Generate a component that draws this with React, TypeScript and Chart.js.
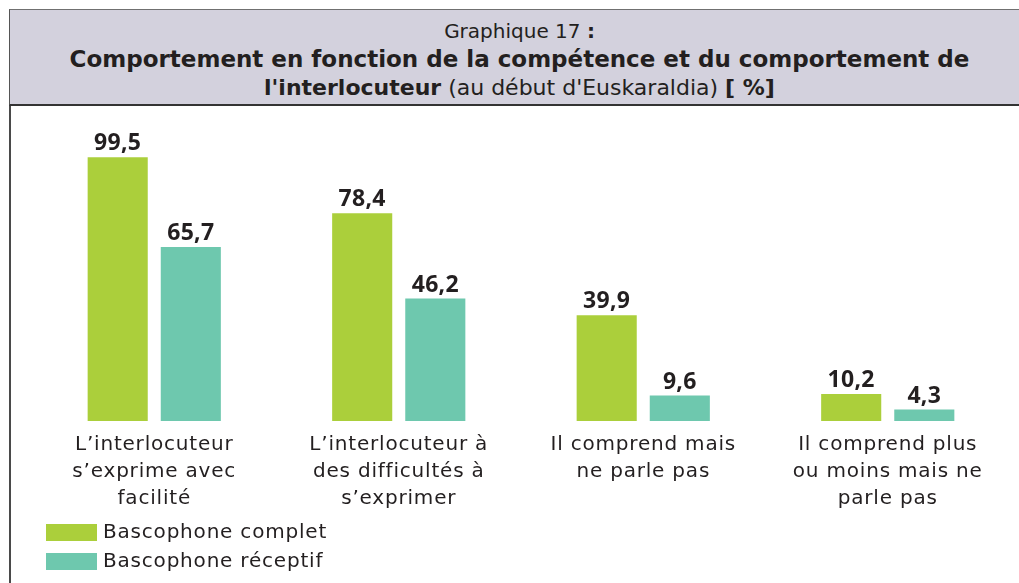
import React, { useEffect, useRef } from "react";
import { Chart, registerables } from "chart.js";

Chart.register(...registerables);

const categories: string[][] = [
  ["L’interlocuteur", "s’exprime avec", "facilité"],
  ["L’interlocuteur à", "des difficultés à", "s’exprimer"],
  ["Il comprend mais", "ne parle pas"],
  ["Il comprend plus", "ou moins mais ne", "parle pas"],
];
const seriesNames = ["Bascophone complet", "Bascophone réceptif"];
const completValues = [99.5, 78.4, 39.9, 10.2];
const receptifValues = [65.7, 46.2, 9.6, 4.3];
const seriesColors = ["#abcf3b", "#6ec8ae"];

const FONT = "'DejaVu Sans', sans-serif";
const VALUE_FONT = "'Open Sans', sans-serif";
const TEXT = "#231f20";

const letterSpacer = {
  id: "letterSpacer",
  beforeDraw(chart: any) {
    (chart.ctx as any).letterSpacing = "0.8px";
  },
};

const valueLabels = {
  id: "valueLabels",
  afterDatasetsDraw(chart: any) {
    const ctx = chart.ctx;
    ctx.save();
    (ctx as any).letterSpacing = "0.3px";
    ctx.font = `bold 23px ${VALUE_FONT}`;
    ctx.fillStyle = TEXT;
    ctx.textAlign = "center";
    ctx.textBaseline = "alphabetic";
    chart.data.datasets.forEach((ds: any, i: number) => {
      const meta = chart.getDatasetMeta(i);
      meta.data.forEach((el: any, j: number) => {
        const v = ds.data[j] as number;
        ctx.fillText(v.toFixed(1).replace(".", ","), el.x, el.y - 7);
      });
    });
    ctx.restore();
  },
};

const stackedLegend = {
  id: "stackedLegend",
  afterDraw(chart: any) {
    const ctx = chart.ctx;
    ctx.save();
    (ctx as any).letterSpacing = "0.8px";
    ctx.font = `20px ${FONT}`;
    ctx.textBaseline = "middle";
    ctx.textAlign = "left";
    chart.data.datasets.forEach((ds: any, i: number) => {
      const top = 416 + i * 29;
      ctx.fillStyle = ds.backgroundColor;
      ctx.fillRect(46, top, 51, 17);
      ctx.fillStyle = TEXT;
      ctx.fillText(ds.label, 103, top + 9);
    });
    ctx.restore();
  },
};

function BarChart() {
  const ref = useRef<HTMLCanvasElement>(null);
  useEffect(() => {
    if (!ref.current) return;
    const chart = new Chart(ref.current, {
      type: "bar",
      data: {
        labels: categories,
        datasets: [
          { label: seriesNames[0], data: completValues, backgroundColor: seriesColors[0], borderWidth: 0 },
          { label: seriesNames[1], data: receptifValues, backgroundColor: seriesColors[1], borderWidth: 0 },
        ],
      },
      options: {
        animation: false,
        responsive: false,
        devicePixelRatio: 1,
        layout: { padding: { left: 32, right: 9, top: 48, bottom: 62 } },
        datasets: { bar: { categoryPercentage: 0.598, barPercentage: 0.822 } },
        scales: {
          x: {
            grid: { display: false },
            border: { display: false },
            ticks: {
              autoSkip: false,
              maxRotation: 0,
              minRotation: 0,
              padding: 2,
              color: TEXT,
              font: { family: FONT, size: 20, lineHeight: 1.35 },
            },
            afterFit: (scale: any) => {
              scale.height = 100;
            },
          },
          y: { display: false, min: 0, max: 100 },
        },
        plugins: {
          legend: { display: false },
          tooltip: { enabled: false },
        },
      } as any,
      plugins: [letterSpacer, valueLabels, stackedLegend],
    });
    return () => chart.destroy();
  }, []);
  return (
    <canvas
      ref={ref}
      width={1019}
      height={475}
      style={{ position: "absolute", left: 0, top: 108, width: 1019, height: 475 }}
    />
  );
}

export default function App() {
  return (
    <div
      style={{
        position: "fixed",
        left: 0,
        top: 0,
        width: 1019,
        height: 583,
        overflow: "hidden",
        background: "#ffffff",
        fontFamily: FONT,
        color: TEXT,
      }}
    >
      <div
        style={{
          position: "absolute",
          left: 9,
          top: 9,
          width: 1020,
          height: 97,
          background: "#d3d1dd",
          borderTop: "1px solid #707070",
          borderLeft: "1px solid #555555",
          borderBottom: "2px solid #333333",
          boxSizing: "border-box",
          textAlign: "center",
          whiteSpace: "nowrap",
        }}
      >
        <div style={{ position: "absolute", left: 0, right: 0, top: 7, fontSize: 20, lineHeight: "28px" }}>
          Graphique 17 <b>:</b>
        </div>
        <div style={{ position: "absolute", left: 0, right: 0, top: 34, fontSize: 23, lineHeight: "30px", fontWeight: 700 }}>
          Comportement en fonction de la compétence et du comportement de
        </div>
        <div style={{ position: "absolute", left: 0, right: 0, top: 63, fontSize: 22, lineHeight: "30px" }}>
          <b>l'interlocuteur</b> (au début d'Euskaraldia) <b>[ %]</b>
        </div>
      </div>
      <div
        style={{
          position: "absolute",
          left: 9,
          top: 106,
          width: 2,
          height: 477,
          background: "#4a4a4a",
        }}
      />
      <BarChart />
    </div>
  );
}
